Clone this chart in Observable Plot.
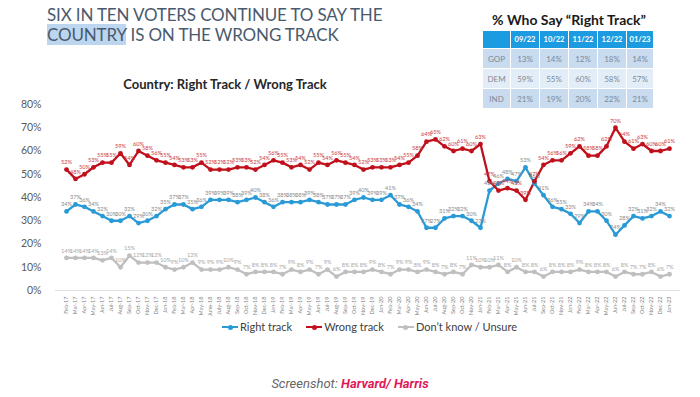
<!DOCTYPE html>
<html>
<head>
<meta charset="utf-8">
<script src="https://cdn.jsdelivr.net/npm/d3@7"></script>
<script src="https://cdn.jsdelivr.net/npm/@observablehq/plot@0.6"></script>
<style>
  html, body { margin: 0; padding: 0; background: #fff; }
  #wrap { position: relative; width: 700px; height: 397px; overflow: hidden; font-family: Lato, "Open Sans", sans-serif; }
  #chart { position: absolute; left: 0; top: 0; }
  #title { position: absolute; left: 47px; top: 5px; font-size: 17px; line-height: 20px; color: #4a5a6e; letter-spacing: -0.15px; white-space: nowrap; }
  #title .hl { background: #bcd6ef; }
  #ctitle { position: absolute; left: 0; width: 450px; top: 76px; text-align: center; font-weight: 700; font-size: 13px; color: #262626; }
  #ttitle { position: absolute; left: 483px; width: 172px; top: 11px; text-align: center; font-weight: 700; font-size: 14px; color: #1a1a1a; white-space: nowrap; }
  #tbl { position: absolute; left: 482px; top: 30px; border-collapse: separate; border-spacing: 1.5px; background: #fff; }
  #tbl td { padding: 0; text-align: center; font-size: 8px; color: #7d8a97; height: 19px; }
  #tbl tr.head td { background: #1d9be0; color: #fff; font-weight: 700; font-size: 7.5px; height: 17px; }
  #tbl tr.odd td { background: #c8dbef; }
  #tbl tr.even td { background: #e3edf8; }
  #legend { position: absolute; top: 320px; left: 222px; font-size: 11px; color: #404040; white-space: nowrap; font-family: Lato, sans-serif; }
  #legend .item { display: inline-block; margin-right: 14px; }
  #legend .sw { display: inline-block; position: relative; width: 16px; height: 10px; margin-right: 2px; vertical-align: -1px; }
  #legend .sw i { position: absolute; left: 0; top: 4px; width: 16px; height: 2px; }
  #legend .sw b { position: absolute; left: 5.5px; top: 2.5px; width: 5px; height: 5px; border-radius: 50%; }
  #caption { position: absolute; top: 376px; left: 0; width: 700px; text-align: center; font-family: Roboto, sans-serif; font-style: italic; font-size: 13px; color: #666; }
  #caption b { color: #e0195a; }
</style>
</head>
<body>
<div id="wrap">
  <div id="chart"></div>
  <div id="title">SIX IN TEN VOTERS CONTINUE TO SAY THE<br><span class="hl">COUNTRY</span> IS ON THE WRONG TRACK</div>
  <div id="ctitle">Country: Right Track / Wrong Track</div>
  <div id="ttitle">% Who Say “Right Track”</div>
  <table id="tbl"></table>
  <div id="legend"></div>
  <div id="caption">Screenshot: <b>Harvard/ Harris</b></div>
</div>
<script>
const months = ["Feb-17","Mar-17","Apr-17","May-17","Jun-17","Jul-17","Aug-17","Sep-17","Oct-17","Nov-17","Dec-17",
  "Jan-18","Feb-18","Mar-18","Apr-18","May-18","June-18","July-18","Aug-18","Sep-18","Oct-18","Nov-18","Dec-18",
  "Jan-19","Feb-19","Mar-19","Apr-19","May-19","Jun-19","Jul-19","Aug-19","Sep-19","Oct-19","Nov-19","Dec-19",
  "Jan-20","Feb-20","Mar-20","Apr-20","May-20","Jun-20","Jul-20","Aug-20","Sep-20","Oct-20","Nov-20",
  "Jan-21","Feb-21","Mar-21","Apr-21","May-21","Jun-21","Jul-21","Sep-21","Oct-21","Nov-21",
  "Jan-22","Feb-22","Mar-22","Apr-22","May-22","Jun-22","Jul-22","Sep-22","Oct-22","Nov-22","Dec-22","Jan-23"];

const rightTrack = [34,37,36,34,32,30,30,32,29,30,32,35,37,37,
  35,36,39,39,39,38,39,40,38,36,38,38,38,39,38,37,37,37,
  39,40,39,39,41,37,36,34,27,27,31,32,32,30,27,
  43,46,48,47,53,46,41,36,35,33,29,34,34,30,24,28,32,31,32,34,32];

const wrongTrack = [52,48,50,53,55,55,59,54,60,58,56,55,54,53,53,55,
  52,52,52,53,53,52,54,56,55,53,54,52,55,54,56,55,
  54,52,53,53,53,54,55,58,64,65,62,60,61,60,63,
  47,43,44,43,39,47,54,56,56,59,62,58,58,62,70,64,61,63,60,60,61];

const unsure = [14,14,14,14,13,14,10,15,12,12,12,10,9,10,
  12,9,9,9,10,9,7,8,8,8,7,9,8,9,7,9,6,8,
  8,8,9,8,7,9,9,8,9,8,7,8,7,11,10,
  10,11,8,10,8,8,6,8,8,8,9,8,8,8,6,8,7,7,8,6,7];

const seriesNames = ["Right track","Wrong track","Don't know / Unsure"];
const seriesColors = ["#2a9ad6","#c0101c","#bfbfbf"];
const labelColors = ["#8a8a8a","#cc3a40","#a6a6a6"];
const yTicks = [0,10,20,30,40,50,60,70,80];

const tableCols = ["09/22","10/22","11/22","12/22","01/23"];
const tableRows = ["GOP","DEM","IND"];
const gop = [13,14,12,18,14];
const dem = [59,55,60,58,57];
const ind = [21,19,20,22,21];

const seriesValues = [rightTrack, wrongTrack, unsure];
const data = seriesNames.flatMap((s, k) => months.map((m, i) => ({m, v: seriesValues[k][i], s})));

const plot = Plot.plot({
  width: 700, height: 397,
  marginTop: 104, marginBottom: 107, marginLeft: 55, marginRight: 20,
  style: {fontFamily: "Lato, 'Open Sans', sans-serif", background: "transparent", overflow: "visible"},
  x: {type: "point", domain: months, padding: 0, label: null},
  y: {domain: [0, 80], label: null},
  color: {domain: seriesNames, range: seriesColors},
  marks: [
    Plot.ruleY([0], {stroke: "#d9d9d9", strokeWidth: 0.8}),
    Plot.axisY({ticks: yTicks, tickSize: 0, tickPadding: 14, fontSize: 10.5, fill: "#595959", tickFormat: d => d + "%", label: null}),
    Plot.axisX({tickSize: 0, tickRotate: -90, tickPadding: 6, fontSize: 5.5, fill: "#7f7f7f", label: null}),
    ...seriesNames.map((s, k) => Plot.line(data.filter(d => d.s === s), {x: "m", y: "v", stroke: seriesColors[k], strokeWidth: 2.3})),
    ...seriesNames.map((s, k) => Plot.dot(data.filter(d => d.s === s), {x: "m", y: "v", fill: seriesColors[k], r: 2.4})),
    ...seriesNames.map((s, k) => Plot.text(data.filter(d => d.s === s), {x: "m", y: "v", text: d => d.v + "%", dy: -7, fill: labelColors[k], fontSize: 5.6, letterSpacing: -0.2}))
  ]
});
document.getElementById("chart").appendChild(plot);

// table
const tbl = document.getElementById("tbl");
const widths = [27, 28, 28, 28, 28, 26];
let html = '<tr class="head"><td style="width:' + widths[0] + 'px"></td>' +
  tableCols.map((c, i) => '<td style="width:' + widths[i + 1] + 'px">' + c + '</td>').join("") + '</tr>';
[gop, dem, ind].forEach((row, r) => {
  html += '<tr class="' + (r % 2 === 0 ? "odd" : "even") + '"><td>' + tableRows[r] + '</td>' +
    row.map(v => '<td>' + v + '%</td>').join("") + '</tr>';
});
tbl.innerHTML = html;

// legend
document.getElementById("legend").innerHTML = seriesNames.map((s, k) =>
  '<span class="item"><span class="sw"><i style="background:' + seriesColors[k] + '"></i><b style="background:' + seriesColors[k] + '"></b></span>' +
  s.replace("'", "’") + '</span>').join("");
</script>
</body>
</html>
